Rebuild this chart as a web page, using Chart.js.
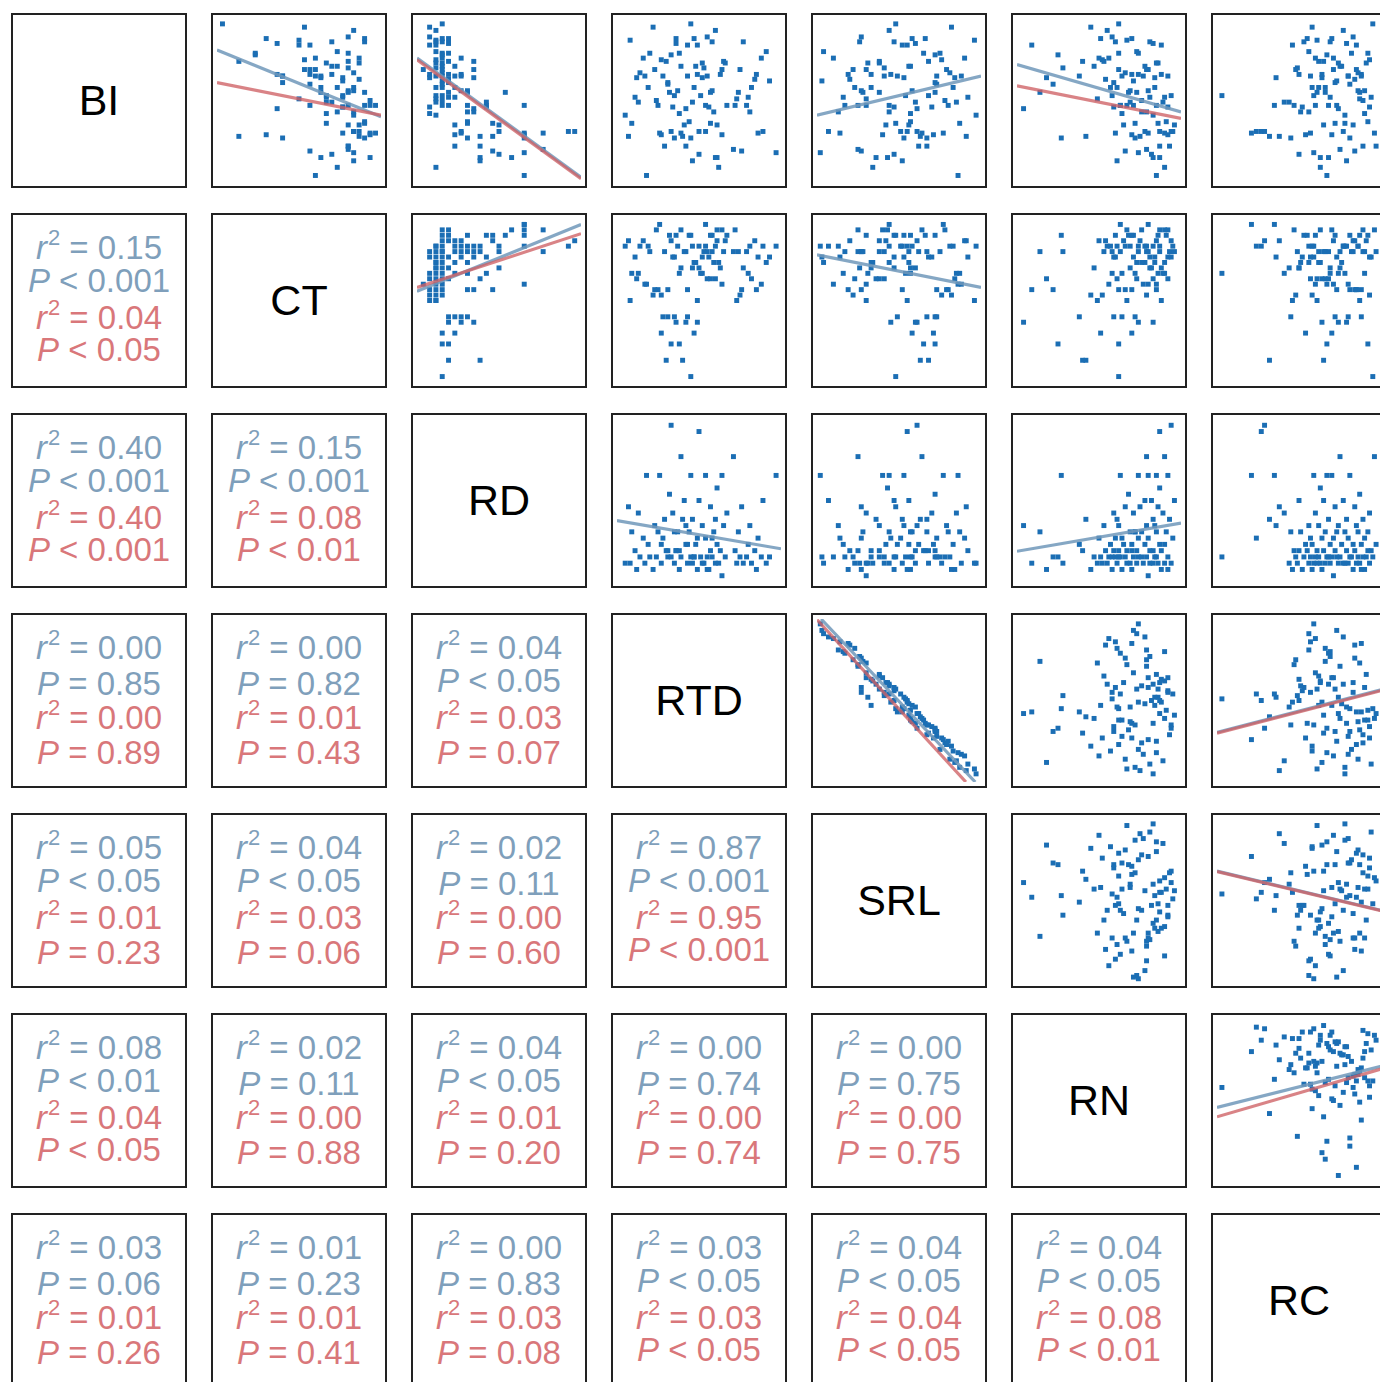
<!DOCTYPE html>
<html>
<head>
<meta charset="utf-8">
<script src="https://cdn.jsdelivr.net/npm/chart.js@4.4.1/dist/chart.umd.min.js"></script>
<style>
html, body { margin: 0; padding: 0; background: #fff; overflow: hidden; width: 1380px; height: 1382px; }
#grid { position: relative; width: 1380px; height: 1382px; }
.cell { position: absolute; box-sizing: border-box; width: 176px; height: 175px; border: 2px solid #222; background: #fff; }
.cell canvas { position: absolute; left: 0; top: 0; }
.diag { position: absolute; left: 0; width: 172px; top: 64px; text-align: center; font: 43px/43px "Liberation Sans", Arial, sans-serif; color: #000; }
.st { position: absolute; left: 0; width: 172px; text-align: center; font: 33px/33px "Liberation Sans", Arial, sans-serif; white-space: nowrap; }
.st .sq { font-size: 22px; position: relative; top: -14px; margin-left: 1px; }
.blue { color: #7f9fbb; }
.red { color: #d9777a; }
</style>
</head>
<body>
<div id="grid"></div>
<script>
const varNames = ['BI', 'CT', 'RD', 'RTD', 'SRL', 'RN', 'RC'];

const BI = [69, 95, 89, 84, 66, 64, 46, 42, 93, 87,
  86, 84, 80, 75, 73, 70, 65, 58, 53, 51,
  49, 41, 9, 97, 88, 86, 79, 78, 76, 73,
  71, 69, 67, 65, 62, 60, 58, 53, 50, 47,
  88, 85, 79, 74, 66, 63, 61, 55, 52, 47,
  71, 65, 58, 52, 35, 29, 22, 76, 66, 65,
  56, 31, 30, 56, 55, 47, 43, 37, 36, 27,
  74, 69, 64, 45, 43, 28, 22, 15, 13, 49,
  47, 46, 36, 28, 19, 35, 31, 17, 55, 15,
  30, 29, 27, 18, 4, 47, 30, 20, 31, 31];
const CT = [18, 16, 24, 15, 17, 19, 23, 20, 25, 15,
  21, 17, 22, 16, 20, 24, 18, 19, 23, 15,
  21, 25, 22, 1, 9, 27, 24, 7, 18, 26,
  21, 16, 25, 19, 23, 17, 22, 20, 28, 24,
  27, 11, 7, 4, 21, 26, 12, 19, 23, 28,
  22, 12, 25, 20, 26, 9, 24, 26, 11, 12,
  24, 25, 23, 25, 24, 17, 22, 27, 20, 12,
  24, 17, 23, 11, 25, 4, 24, 19, 25, 20,
  27, 23, 27, 26, 17, 24, 25, 21, 27, 28,
  29, 28, 27, 25, 18, 29, 28, 24, 25, 26];
const RD = [1, 2, 2, 2, 2, 2, 2, 2, 3, 3,
  3, 3, 3, 3, 3, 3, 3, 3, 3, 3,
  3, 3, 3, 4, 4, 4, 4, 4, 4, 4,
  4, 4, 4, 4, 4, 4, 4, 4, 4, 4,
  5, 5, 5, 5, 5, 5, 5, 5, 5, 5,
  6, 6, 6, 6, 6, 6, 6, 7, 7, 7,
  7, 7, 7, 8, 8, 8, 8, 8, 8, 8,
  9, 9, 9, 9, 9, 10, 10, 10, 10, 11,
  11, 11, 12, 12, 12, 13, 13, 13, 14, 15,
  17, 17, 17, 17, 17, 17, 20, 20, 24, 25];
const RTD = [64, 22, 55, 49, 85, 12, 56, 38, 60, 8,
  77, 43, 91, 27, 52, 53, 17, 82, 35, 73,
  46, 5, 62, 45, 47, 58, 20, 33, 88, 66,
  39, 75, 14, 55, 93, 31, 47, 51, 24, 79,
  36, 36, 38, 30, 63, 84, 31, 57, 11, 72,
  48, 43, 19, 80, 61, 27, 42, 16, 49, 28,
  58, 54, 86, 37, 74, 25, 59, 44, 9, 35,
  65, 23, 52, 42, 81, 40, 29, 60, 46, 13,
  67, 34, 57, 7, 76, 41, 89, 50, 32, 61,
  26, 64, 45, 97, 18, 54, 39, 71, 50, 33];
const SRL = [30, 82, 27, 55, 19, 84, 47, 57, 44, 96,
  26, 52, 4, 76, 31, 41, 88, 23, 68, 30,
  60, 97, 34, 48, 58, 47, 75, 72, 10, 38,
  57, 22, 81, 41, 3, 73, 33, 54, 78, 17,
  66, 60, 65, 68, 33, 20, 72, 38, 92, 25,
  56, 49, 83, 16, 42, 71, 62, 90, 45, 73,
  27, 51, 14, 58, 28, 80, 44, 57, 87, 67,
  38, 79, 53, 61, 13, 63, 67, 36, 52, 85,
  30, 70, 48, 91, 27, 56, 7, 47, 72, 43,
  77, 40, 53, 2, 86, 44, 64, 25, 55, 61];
const RN = [80, 45, 58, 88, 70, 18, 92, 64, 55, 67,
  81, 9, 73, 52, 86, 28, 77, 61, 94, 49,
  69, 83, 90, 62, 51, 60, 74, 25, 56, 85,
  47, 79, 66, 92, 71, 22, 84, 58, 76, 63,
  70, 83, 62, 40, 88, 54, 59, 73, 81, 67,
  78, 38, 57, 90, 65, 70, 87, 50, 74, 64,
  80, 95, 60, 69, 14, 85, 76, 91, 72, 72,
  53, 62, 84, 4, 79, 42, 93, 83, 61, 89,
  71, 59, 86, 75, 66, 96, 78, 82, 68, 87,
  80, 92, 27, 74, 85, 63, 90, 79, 87, 94];
const RC = [71, 58, 83, 46, 88, 64, 52, 90, 77, 61,
  69, 85, 56, 93, 74, 49, 80, 66, 59, 87,
  44, 78, 63, 95, 70, 53, 82, 67, 60, 91,
  75, 48, 86, 57, 73, 81, 62, 3, 89, 68,
  55, 79, 92, 65, 50, 84, 72, 61, 94, 47,
  76, 88, 58, 69, 83, 54, 97, 71, 64, 80,
  90, 24, 57, 86, 66, 73, 51, 92, 78, 45,
  62, 85, 36, 74, 56, 32, 89, 68, 79, 41,
  60, 93, 72, 38, 84, 65, 77, 50, 87, 63,
  21, 70, 81, 59, 67, 35, 96, 75, 27, 29];

const series = [BI, CT, RD, RTD, SRL, RN, RC];
const axisMin = [0, 0, 0, 0, 0, 0, 0];
const axisMax = [100, 30, 26, 100, 100, 100, 100];

// lower triangle, row by row: (1,0) (2,0) (2,1) (3,0) ... (6,5)
const r2Blue = ['0.15', '0.40', '0.15', '0.00', '0.00', '0.04', '0.05', '0.04', '0.02', '0.87',
  '0.08', '0.02', '0.04', '0.00', '0.00', '0.03', '0.01', '0.00', '0.03', '0.04', '0.04'];
const pBlue = ['< 0.001', '< 0.001', '< 0.001', '= 0.85', '= 0.82', '< 0.05', '< 0.05', '< 0.05', '= 0.11', '< 0.001',
  '< 0.01', '= 0.11', '< 0.05', '= 0.74', '= 0.75', '= 0.06', '= 0.23', '= 0.83', '< 0.05', '< 0.05', '< 0.05'];
const r2Red = ['0.04', '0.40', '0.08', '0.00', '0.01', '0.03', '0.01', '0.03', '0.00', '0.95',
  '0.04', '0.00', '0.01', '0.00', '0.00', '0.01', '0.01', '0.03', '0.03', '0.04', '0.08'];
const pRed = ['< 0.05', '< 0.001', '< 0.01', '= 0.89', '= 0.43', '= 0.07', '= 0.23', '= 0.06', '= 0.60', '< 0.001',
  '< 0.05', '= 0.88', '= 0.20', '= 0.74', '= 0.75', '= 0.26', '= 0.41', '= 0.08', '< 0.05', '< 0.05', '< 0.01'];

// fitted lines: [row, col, group, x0, y0, x1, y1]
const fitLines = [
  [0, 1, 'blue', 0, 81, 30, 40], [0, 1, 'red', 0, 61, 30, 41],
  [0, 2, 'blue', 0, 76, 26, 3], [0, 2, 'red', 0, 75, 26, 2],
  [0, 4, 'blue', 0, 41, 100, 65],
  [0, 5, 'blue', 0, 72, 100, 43], [0, 5, 'red', 0, 59, 100, 39],
  [1, 2, 'blue', 0, 16.7, 26, 29.0], [1, 2, 'red', 0, 17.4, 26, 27.3],
  [1, 4, 'blue', 0, 23.4, 100, 17.4],
  [2, 3, 'blue', 0, 9.8, 100, 5.3],
  [2, 5, 'blue', 0, 4.9, 100, 9.4],
  [3, 4, 'blue', 2.5, 100, 96.5, 0], [3, 4, 'red', 0, 99.6, 90.8, 0],
  [3, 6, 'blue', 0, 30.5, 100, 56.5], [3, 6, 'red', 0, 30, 100, 56],
  [4, 6, 'blue', 0, 68, 100, 44], [4, 6, 'red', 0, 67.7, 100, 43.7],
  [5, 6, 'blue', 0, 45.8, 100, 71], [5, 6, 'red', 0, 40, 100, 69.3]
];

const lineColors = { blue: 'rgba(112,152,186,0.85)', red: 'rgba(206,96,100,0.78)' };
const grid = document.getElementById('grid');

function makeCell(r, c) {
  const d = document.createElement('div');
  d.className = 'cell';
  d.style.left = (11 + 200 * c) + 'px';
  d.style.top = (13 + 200 * r) + 'px';
  grid.appendChild(d);
  return d;
}

function statLine(cls, top, html) {
  const s = document.createElement('div');
  s.className = 'st ' + cls;
  s.style.top = top + 'px';
  s.innerHTML = html;
  return s;
}

function pHtml(p) {
  const sym = p[0] === '<' ? '&lt;' : '=';
  return '<i>P</i> ' + sym + ' ' + p.slice(2);
}

let k = 0;
for (let r = 0; r < 7; r++) {
  for (let c = 0; c < 7; c++) {
    const cell = makeCell(r, c);
    if (r === c) {
      const t = document.createElement('div');
      t.className = 'diag';
      t.textContent = varNames[r];
      cell.appendChild(t);
    } else if (r > c) {
      const eqB = pBlue[k][0] === '=' ? 3 : 0;
      const eqR = pRed[k][0] === '=' ? 3 : 0;
      cell.appendChild(statLine('blue', 16, '<i>r</i><span class="sq">2</span> = ' + r2Blue[k]));
      cell.appendChild(statLine('blue', 49 + eqB, pHtml(pBlue[k])));
      cell.appendChild(statLine('red', 86, '<i>r</i><span class="sq">2</span> = ' + r2Red[k]));
      cell.appendChild(statLine('red', 118 + eqR, pHtml(pRed[k])));
      k++;
    } else {
      const cv = document.createElement('canvas');
      cv.width = 172; cv.height = 171;
      cell.appendChild(cv);
      const pts = series[c].map((v, i) => ({ x: v, y: series[r][i] }));
      const datasets = [{
        type: 'scatter', data: pts, pointStyle: 'rect', pointRadius: 3.5,
        backgroundColor: '#1b6eb4', borderWidth: 0, order: 3
      }];
      fitLines.filter(f => f[0] === r && f[1] === c).forEach(f => {
        datasets.push({
          type: 'line', data: [{ x: f[3], y: f[4] }, { x: f[5], y: f[6] }],
          borderColor: lineColors[f[2]], borderWidth: 3.2, pointRadius: 0,
          showLine: true, fill: false, clip: 0, order: f[2] === 'red' ? 1 : 2
        });
      });
      new Chart(cv, {
        type: 'scatter',
        data: { datasets },
        options: {
          responsive: false, animation: false, events: [], devicePixelRatio: 1,
          layout: { padding: 0 },
          plugins: { legend: { display: false }, tooltip: { enabled: false } },
          scales: {
            x: { type: 'linear', display: false, min: axisMin[c], max: axisMax[c] },
            y: { type: 'linear', display: false, min: axisMin[r], max: axisMax[r] }
          }
        }
      });
    }
  }
}
</script>
</body>
</html>
